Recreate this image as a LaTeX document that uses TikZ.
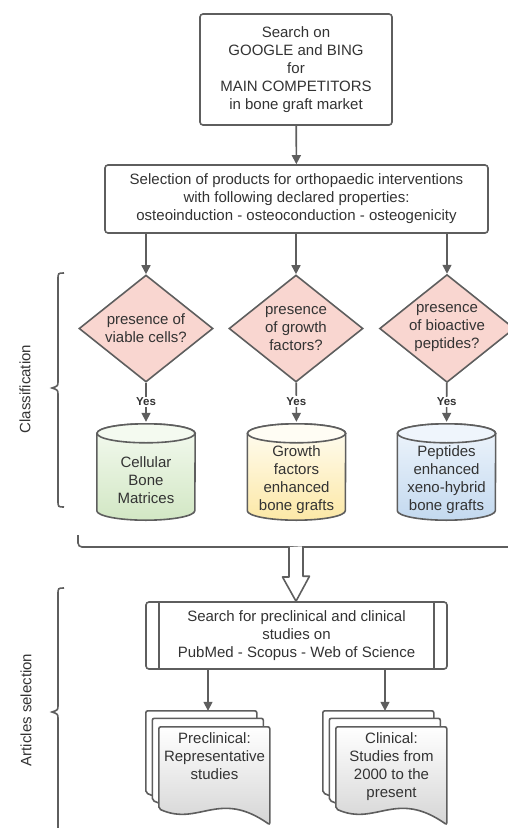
\documentclass[tikz,border=0pt]{standalone}
\usepackage{fontspec}
\setmainfont{Liberation Sans}
\usetikzlibrary{shapes.geometric,arrows.meta,positioning}
\pgfdeclarelayer{bg}
\pgfsetlayers{bg,main}

\definecolor{linec}{HTML}{5E5E5E}
\definecolor{txtc}{HTML}{333333}
\definecolor{pinkq}{HTML}{F9D6D0}
\definecolor{greenA}{HTML}{F4FAF0}
\definecolor{greenB}{HTML}{D2E7C4}
\definecolor{yellowA}{HTML}{FFFDF4}
\definecolor{yellowB}{HTML}{FCE8A6}
\definecolor{blueA}{HTML}{EFF5FC}
\definecolor{blueB}{HTML}{C3D9EF}
\definecolor{docB}{HTML}{D4D4D4}

\tikzset{
    base/.style={font=\fontsize{15}{18}\selectfont, text=txtc, align=center, inner sep=0pt},
    box/.style={base, draw=linec, line width=1.6pt, rounded corners=3pt, fill=white},
    quest/.style={base, diamond, aspect=1.25, draw=linec, line width=1.6pt, fill=pinkq,
        minimum width=134pt, minimum height=107pt},
    tank/.style={base, minimum width=98pt, minimum height=80pt},
    stack/.style={minimum width=124pt, minimum height=115pt, inner sep=0pt},
    arr/.style={draw=linec, line width=1.6pt, -{Triangle[width=9pt,length=9pt]}},
    brc/.style={draw=linec, line width=1.6pt},
    yes/.style={font=\fontsize{11.5}{13}\bfseries\selectfont, text=txtc, fill=white, inner sep=1pt},
}

% 圆柱: 节点, 上色, 下色
\newcommand{\cylbody}[3]{%
    \begin{pgfonlayer}{bg}
    \shade[top color=#2, bottom color=#3, draw=linec, line width=1.6pt]
        ([yshift=6.5pt]#1.north west) -- ([yshift=9.5pt]#1.south west)
        arc[start angle=180, end angle=360, x radius=49pt, y radius=9.5pt]
        -- ([yshift=6.5pt]#1.north east)
        arc[start angle=0, end angle=180, x radius=49pt, y radius=9.5pt] -- cycle;
    \draw[fill=#2, draw=linec, line width=1.6pt] ([yshift=6.5pt]#1.north) ellipse[x radius=49pt, y radius=9.5pt];
    \end{pgfonlayer}}

% 文档页: 节点, 偏移, 填充
\newcommand{\docpage}[3]{%
    \draw[brc, rounded corners=2pt, shift={(#1.north west)}, shift={#2}, #3]
        (0,82) -- (0,0) -- (111,0) -- (111,98) .. controls (60,62) and (40,100) .. (0,82) -- cycle;}

\begin{document}
\begin{tikzpicture}[x=1pt,y=-1pt]
    \useasboundingbox (0,0) rectangle (507,828);
    % 检索
    \node[box, minimum width=192pt, minimum height=111pt] (web) at (296,69.5)
        {Search on\\GOOGLE and BING\\for\\MAIN COMPETITORS\\in bone graft market};
    \node[box, minimum width=383pt, minimum height=68pt] (sel) at (296.5,199)
        {Selection of products for orthopaedic interventions\\with following declared properties:\\osteoinduction - osteoconduction - osteogenicity};
    \draw[arr] (web) -- (sel);
    % 分类
    \node[quest] (cells) at (146,328.5) {presence of\\viable cells?};
    \node[quest] (growth) at (296,328.5) {presence\\of growth\\factors?};
    \node[quest] (pept) at (447,328.5) {presence\\of bioactive\\peptides?};
    \foreach \q in {cells,growth,pept}
        \draw[arr] (sel.south -| \q.north) -- (\q.north);
    \node[tank] (cbm) at (146,480) {Cellular\\Bone\\Matrices};
    \node[tank] (gfe) at (296.5,480) {Growth\\factors\\enhanced\\bone grafts};
    \node[tank] (pex) at (446.5,480) {Peptides\\enhanced\\xeno-hybrid\\bone grafts};
    \cylbody{cbm}{greenA}{greenB}
    \cylbody{gfe}{yellowA}{yellowB}
    \cylbody{pex}{blueA}{blueB}
    \draw[arr, shorten >=18pt] (cells) -- node[yes, pos=0.33] (yes1) {Yes} (cbm.north);
    \draw[arr, shorten >=18pt] (growth) -- node[yes, pos=0.33] (yes2) {Yes} (gfe.north);
    \draw[arr, shorten >=18pt] (pept) -- node[yes, pos=0.33] (yes3) {Yes} (pex.north);
    \draw[brc] (64,273) .. controls (58,273) .. (58,280) -- (58,381)
        .. controls (58,386) .. (52,388) .. controls (58,390) .. (58,395)
        -- (58,500) .. controls (58,507) .. (64,507);
    \node[base, rotate=90] (cls) at (25,389) {Classification};
    % 文献
    \node[box, minimum width=301pt, minimum height=67pt] (lit) at (296.5,635.5)
        {Search for preclinical and clinical\\studies on\\PubMed - Scopus - Web of Science};
    \draw[brc] ([xshift=14pt]lit.north west) -- ([xshift=14pt]lit.south west);
    \draw[brc] ([xshift=-14pt]lit.north east) -- ([xshift=-14pt]lit.south east);
    \draw[brc, rounded corners=4pt] (78,535) -- (78,547) -- (520,547);
    \coordinate (merge) at (296,547);
    \draw[brc, fill=white, line join=round] ([xshift=-7pt]merge) -- ++(0,30) -- ++(-6.5,0)
        -- (lit.north -| merge) -- ++(13.5,-25) -- ++(-6.5,0) -- ++(0,-30);
    \node[stack] (precl) at (208,768.5) {};
    \node[stack] (clin) at (385,768.5) {};
    \foreach \d in {precl,clin} {
        \docpage{\d}{(0,0)}{fill=white}
        \docpage{\d}{(6.5,7.5)}{fill=white}
        \docpage{\d}{(13,16)}{top color=white, bottom color=docB}
        \draw[arr] (lit.south -| \d.north) -- (\d.north);
    }
    \node[base, below=21.5pt of precl.north, xshift=6.5pt] (precltxt) {Preclinical:\\Representative\\studies};
    \node[base, below=21.5pt of clin.north, xshift=6.5pt] (clintxt) {Clinical:\\Studies from\\2000 to the\\present};
    \draw[brc] (64,588) .. controls (58,588) .. (58,595) -- (58,705)
        .. controls (58,710) .. (52,712) .. controls (58,714) .. (58,719) -- (58,840);
    \node[base, rotate=90] (art) at (26,710) {Articles selection};
\end{tikzpicture}
\end{document}
